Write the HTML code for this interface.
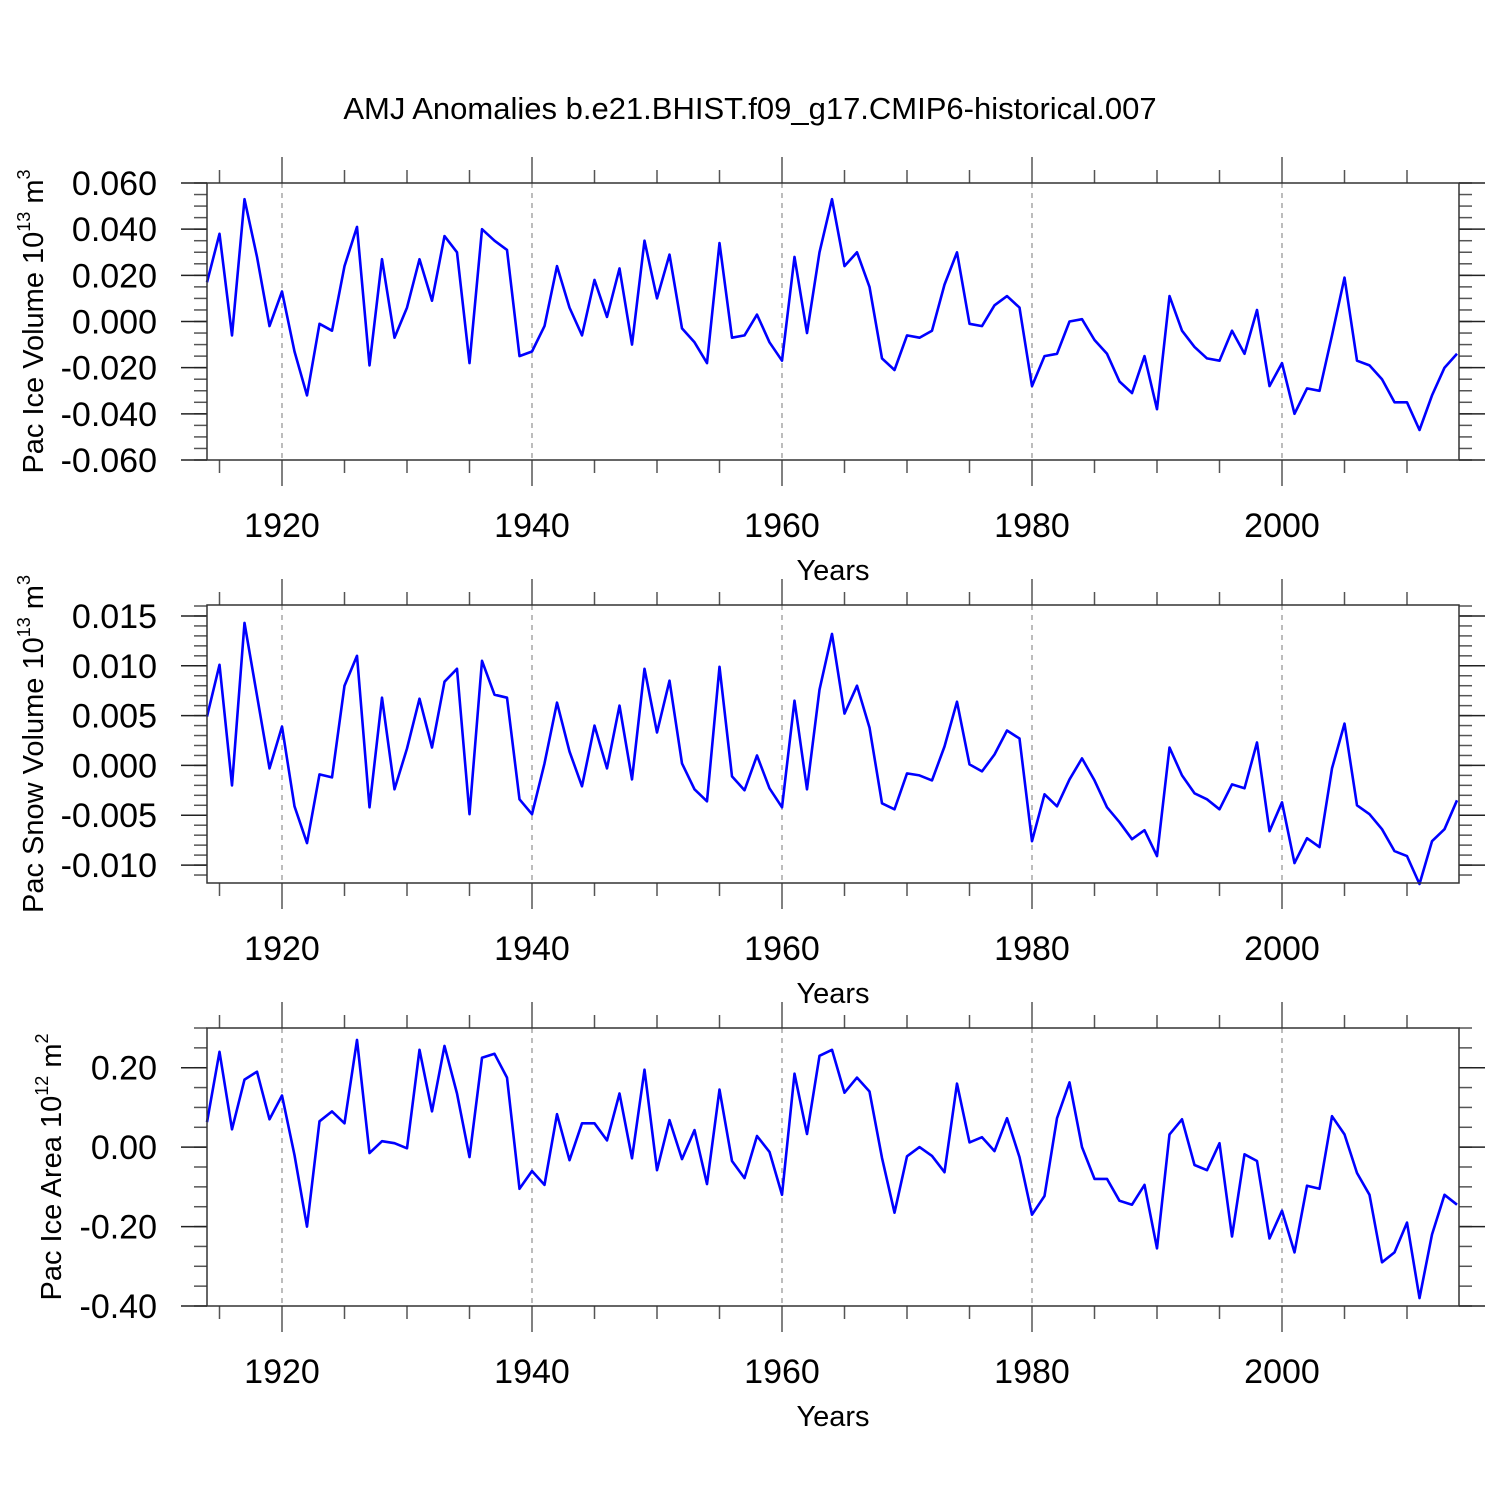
<!DOCTYPE html>
<html><head><meta charset="utf-8"><style>
html,body{margin:0;padding:0;background:#fff}
svg{display:block;font-family:"Liberation Sans",Arial,sans-serif}
</style></head><body>
<svg id="c" width="1500" height="1500" viewBox="0 0 1500 1500">
<text x="750" y="119" text-anchor="middle" font-size="31">AMJ Anomalies b.e21.BHIST.f09_g17.CMIP6-historical.007</text>
</svg>
<script>
const years=[];for(let y=1914;y<=2014;y++)years.push(y);
const iceVolume=[0.017,0.038,-0.006,0.053,0.028,-0.002,0.013,-0.013,-0.032,-0.001,-0.004,0.024,0.041,-0.019,0.027,-0.007,0.006,0.027,0.009,0.037,0.030,-0.018,0.040,0.035,0.031,-0.015,-0.013,-0.002,0.024,0.006,-0.006,0.018,0.002,0.023,-0.010,0.035,0.010,0.029,-0.003,-0.009,-0.018,0.034,-0.007,-0.006,0.003,-0.009,-0.017,0.028,-0.005,0.030,0.053,0.024,0.030,0.015,-0.016,-0.021,-0.006,-0.007,-0.004,0.016,0.030,-0.001,-0.002,0.007,0.011,0.006,-0.028,-0.015,-0.014,0.000,0.001,-0.008,-0.014,-0.026,-0.031,-0.015,-0.038,0.011,-0.004,-0.011,-0.016,-0.017,-0.004,-0.014,0.005,-0.028,-0.018,-0.040,-0.029,-0.030,-0.006,0.019,-0.017,-0.019,-0.025,-0.035,-0.035,-0.047,-0.032,-0.020,-0.014];
const snowVolume=[4.9,10.1,-2.0,14.3,7.0,-0.3,3.9,-4.1,-7.8,-0.9,-1.2,8.0,11.0,-4.2,6.8,-2.4,1.7,6.7,1.8,8.4,9.7,-4.9,10.5,7.1,6.8,-3.4,-4.9,0.2,6.3,1.4,-2.1,4.0,-0.3,6.0,-1.4,9.7,3.3,8.5,0.2,-2.4,-3.6,9.9,-1.1,-2.5,1.0,-2.3,-4.2,6.5,-2.4,7.6,13.2,5.2,8.0,3.8,-3.8,-4.4,-0.8,-1.0,-1.5,1.9,6.4,0.1,-0.6,1.1,3.5,2.7,-7.6,-2.9,-4.1,-1.4,0.7,-1.5,-4.2,-5.7,-7.4,-6.5,-9.1,1.8,-1.0,-2.8,-3.4,-4.4,-1.9,-2.3,2.3,-6.6,-3.7,-9.8,-7.3,-8.2,-0.3,4.2,-4.0,-4.9,-6.4,-8.6,-9.1,-11.9,-7.6,-6.4,-3.5].map(v=>v/1000);
const iceArea=[0.063,0.24,0.045,0.17,0.19,0.07,0.13,-0.02,-0.20,0.065,0.09,0.06,0.27,-0.015,0.015,0.01,-0.003,0.245,0.09,0.255,0.135,-0.025,0.225,0.235,0.175,-0.105,-0.06,-0.095,0.083,-0.033,0.06,0.06,0.017,0.135,-0.028,0.195,-0.058,0.068,-0.03,0.043,-0.093,0.145,-0.035,-0.078,0.028,-0.012,-0.12,0.185,0.033,0.23,0.245,0.137,0.175,0.14,-0.027,-0.165,-0.023,0,-0.022,-0.063,0.16,0.012,0.025,-0.01,0.073,-0.025,-0.17,-0.123,0.073,0.163,0,-0.08,-0.08,-0.135,-0.145,-0.095,-0.255,0.032,0.07,-0.045,-0.058,0.01,-0.225,-0.018,-0.035,-0.23,-0.16,-0.265,-0.097,-0.105,0.078,0.032,-0.065,-0.12,-0.29,-0.265,-0.19,-0.38,-0.22,-0.12,-0.145];
const xTickLabels=[1920,1940,1960,1980,2000];
const ticks1=[0.06,0.04,0.02,0,-0.02,-0.04,-0.06];
const ticks2=[0.015,0.010,0.005,0,-0.005,-0.010];
const ticks3=[0.2,0,-0.2,-0.4];

const svg=document.getElementById('c');const NS='http://www.w3.org/2000/svg';
function el(t,a,p){const e=document.createElementNS(NS,t);for(const k in a)e.setAttribute(k,a[k]);(p||svg).appendChild(e);return e;}
const X0=207,X1=1459,YR0=1914,YR1=2014.16;
const xs=y=>X0+(y-YR0)/(YR1-YR0)*(X1-X0);

function panel(name,top,bot,vmax,vmin,data,ticks,dec,minorStep,titleMain,exp,pw,titleX){
  const g=el('g',{});
  
  
  const ys=v=>top+(vmax-v)/(vmax-vmin)*(bot-top);
  xTickLabels.forEach(yr=>{const l=el('line',{x1:xs(yr),x2:xs(yr),y1:top,y2:bot,stroke:'#999','stroke-width':1.3,'stroke-dasharray':'5,5'},g);
    });
  for(let yr=1915;yr<=2014;yr+=5){const major=yr%20===0;const L=major?26:13;const x=xs(yr);
    el('line',{x1:x,x2:x,y1:top,y2:top-L,stroke:'#555','stroke-width':1.5},g);
    el('line',{x1:x,x2:x,y1:bot,y2:bot+L,stroke:'#555','stroke-width':1.5},g);}
  xTickLabels.forEach(yr=>{const t=el('text',{x:xs(yr),y:bot+77,'text-anchor':'middle','font-size':34},g);t.textContent=yr;
    });
  const start=Math.ceil(vmin/minorStep-1e-6);
  for(let i=start;i*minorStep<=vmax+1e-9;i++){const v=i*minorStep;const y=ys(v);
    el('line',{x1:X0,x2:X0-13,y1:y,y2:y,stroke:'#555','stroke-width':1.5},g);
    el('line',{x1:X1,x2:X1+13,y1:y,y2:y,stroke:'#555','stroke-width':1.5},g);}
  ticks.forEach(v=>{const y=ys(v);
    el('line',{x1:X0,x2:X0-26,y1:y,y2:y,stroke:'#222','stroke-width':1.5},g);
    el('line',{x1:X1,x2:X1+26,y1:y,y2:y,stroke:'#222','stroke-width':1.5},g);
    const t=el('text',{x:157,y:y+12,'text-anchor':'end','font-size':34},g);t.textContent=v.toFixed(dec);
    });
  const pts=data.map((v,i)=>xs(years[i]).toFixed(1)+','+ys(v).toFixed(1)).join(' ');
  const pl=el('polyline',{points:pts,fill:'none',stroke:'#0000ff','stroke-width':2.6,'stroke-linejoin':'round'},g);
  
  const r=el('rect',{x:X0,y:top,width:X1-X0,height:bot-top,fill:'none',stroke:'#333','stroke-width':1.5},g);
  
  const xt=el('text',{x:833,y:bot+120,'text-anchor':'middle','font-size':29},g);xt.textContent='Years';
  
  const cy=(top+bot)/2;
  const yt=el('text',{x:0,y:0,'text-anchor':'middle','font-size':29,transform:`translate(${titleX},${cy}) rotate(-90)`},g);
  
  yt.innerHTML=titleMain+' 10<tspan font-size="18" dy="-13">'+exp+'</tspan><tspan dy="13"> m</tspan><tspan font-size="18" dy="-13">'+pw+'</tspan>';
}
panel('ice-volume',183,460,0.06,-0.06,iceVolume,ticks1,3,0.005,'Pac Ice Volume','13','3',43);
panel('snow-volume',605,883,0.0161,-0.0118,snowVolume,ticks2,3,0.001,'Pac Snow Volume','13','3',43);
panel('ice-area',1028,1306,0.30,-0.40,iceArea,ticks3,2,0.05,'Pac Ice Area','12','2',61);
</script>
</body></html>
